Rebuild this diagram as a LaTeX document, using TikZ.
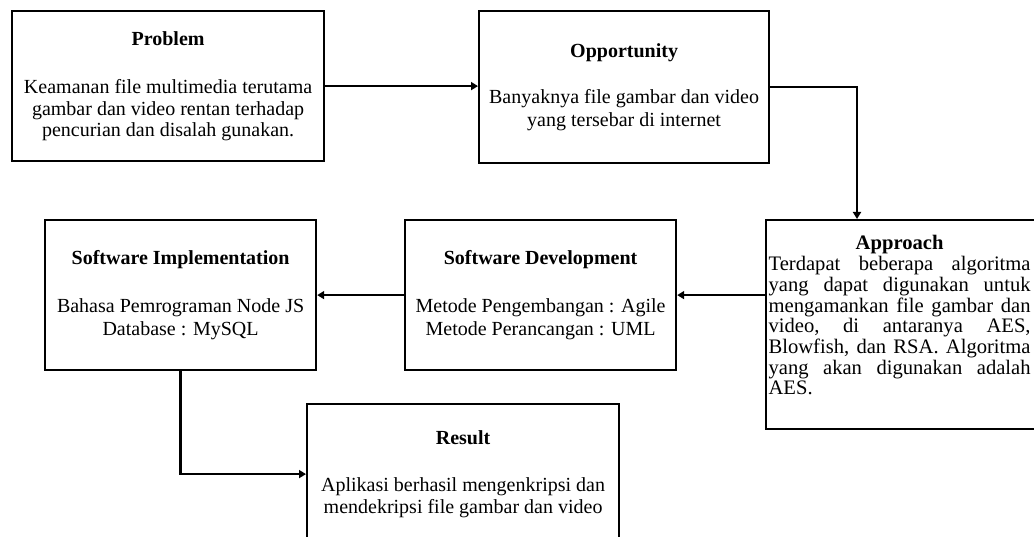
\documentclass[tikz,border=0pt]{standalone}
\usepackage{fontspec}
\setmainfont{Liberation Serif}
\usetikzlibrary{arrows.meta}
\newcommand{\jline}[1]{\makebox[262pt][l]{#1}}
\begin{document}
\begin{tikzpicture}[x=1pt,y=-1pt,
  box/.style={draw=black, line width=2.2pt, rectangle, anchor=north west, inner sep=0pt,
    align=center, font=\fontsize{20}{21.5}\selectfont},
  conn/.style={line width=2.5pt, -{Triangle[length=7pt,width=8pt]}}]
\fill[white] (0,0) rectangle (1034,537);
\useasboundingbox (0,0) rectangle (1034,537);

\node[box, minimum width=312pt, minimum height=150pt] (problem) at (11,10)
  {\textbf{Problem}\\[27pt]Keamanan file multimedia terutama\\gambar dan video rentan terhadap\\pencurian dan disalah gunakan.};

\node[box, minimum width=290pt, minimum height=152pt] (opp) at (478,10)
  {\textbf{Opportunity}\\[25pt]Banyaknya file gambar dan video\\[1.5pt]yang tersebar di internet};

\node[box, minimum width=271pt, minimum height=209pt, text width=266pt, align=left,
  font=\fontsize{20.6}{20.7}\selectfont] (approach) at (765,219)
  {\makebox[262pt][c]{\textbf{Approach}}\\
   \jline{Terdapat\hfill beberapa\hfill algoritma}\\
   \jline{yang\hfill dapat\hfill digunakan\hfill untuk}\\
   \jline{mengamankan\hfill file\hfill gambar\hfill dan}\\
   \jline{video,\hfill di\hfill antaranya\hfill AES,}\\
   \jline{Blowfish,\hfill dan\hfill RSA.\hfill Algoritma}\\
   \jline{yang\hfill akan\hfill digunakan\hfill adalah}\\
   AES.\\[-2pt]\mbox{}};

\node[box, minimum width=271pt, minimum height=150pt] (sd) at (404,219)
  {\textbf{Software Development}\\[27pt]Metode Pengembangan : Agile\\[1pt]Metode Perancangan : UML};

\node[box, minimum width=271pt, minimum height=150pt] (si) at (44,219)
  {\textbf{Software Implementation}\\[27pt]Bahasa Pemrograman Node JS\\[1pt]Database : MySQL};

\node[box, minimum width=312pt, minimum height=140pt] (result) at (306,403)
  {\textbf{Result}\\[26pt]Aplikasi berhasil mengenkripsi dan\\mendekripsi file gambar dan video};

\coordinate (turn) at (857,0);

\draw[conn] (problem.east) -- (problem.east -| opp.west);
\draw[conn] (opp.east) -- (opp.east -| turn) -- (turn |- approach.north);
\draw[conn] (approach.west |- sd.east) -- (sd.east);
\draw[conn] (sd.west) -- (si.east);
\draw[conn] (si.south) |- (result.west);
\end{tikzpicture}
\end{document}
